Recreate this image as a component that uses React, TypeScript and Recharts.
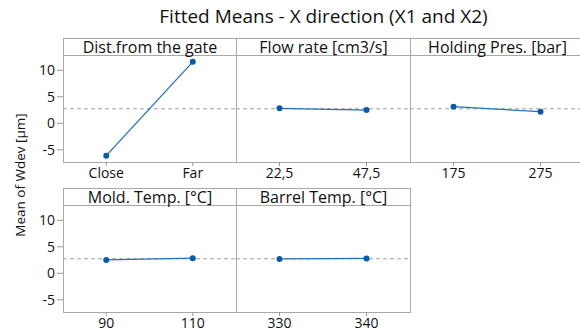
import React from "react"
import { LineChart, Line, XAxis, YAxis, ReferenceLine } from "recharts"

const factors = ["Dist.from the gate", "Flow rate [cm3/s]", "Holding Pres. [bar]", "Mold. Temp. [°C]", "Barrel Temp. [°C]"]
const levels = [["Close", "Far"], ["22,5", "47,5"], ["175", "275"], ["90", "110"], ["330", "340"]]
const means = [[-6.1, 11.6], [2.83, 2.5], [3.13, 2.19], [2.53, 2.86], [2.72, 2.8]]
const overallMean = 2.74
const yTicks = [-5, 0, 5, 10]

const FONT = "'Open Sans', 'Noto Sans', sans-serif"
const BORDER = "#a8a8a8"
const TEXT = "#111"
// column edges, last one runs past the picture
const colEdge = [63, 236, 410, 584]
const rowTop = [38, 188]
const headerH = 18
const plotH = 106
const yAxisW = 40

const Panel = ({ idx }: { idx: number }) => {
    const col = idx % 3
    const row = Math.floor(idx / 3)
    const left = colEdge[col]
    const colW = colEdge[col + 1] - colEdge[col]
    const top = rowTop[row]
    const data = levels[idx].map((lv, i) => ({ level: lv, mean: means[idx][i] }))
    const withY = col === 0
    const chartW = colW + (withY ? yAxisW : 0)

    return (
        <>
            <div style={{
                position: "absolute", left, top, width: colW - 1, height: headerH + plotH - 1,
                border: `1px solid ${BORDER}`
            }} />
            <div style={{
                position: "absolute", left, top, width: colW + 1, height: headerH - 1,
                borderBottom: `1px solid ${BORDER}`, textAlign: "center",
                fontSize: 16, lineHeight: `${headerH}px`, color: TEXT, fontFamily: FONT
            }}>{factors[idx]}</div>
            <div style={{ position: "absolute", left: left - (withY ? yAxisW : 0), top: top + headerH }}>
                <LineChart width={chartW} height={plotH + 24} data={data}
                    margin={{ top: 0, right: 0, bottom: 0, left: 0 }}>
                    <XAxis dataKey="level" axisLine={false} tickSize={4} tickLine={{ stroke: "#999" }}
                        padding={{ left: colW / 4, right: colW / 4 }} height={24} interval={0}
                        tick={{ fontSize: 14, fill: TEXT, fontFamily: FONT }} />
                    <YAxis type="number" domain={[-7.3, 12.7]} ticks={yTicks} hide={!withY}
                        width={yAxisW} axisLine={false} tickSize={6} tickMargin={2}
                        tickLine={{ stroke: "#999" }}
                        tick={{ fontSize: 14, fill: TEXT, fontFamily: FONT }} />
                    <ReferenceLine y={overallMean} stroke="#a0a0a0" strokeDasharray="4 3" />
                    <Line dataKey="mean" stroke="#2a6cbf" strokeWidth={1.3} isAnimationActive={false}
                        dot={{ r: 3, fill: "#0b5aa8", stroke: "#0b5aa8", strokeWidth: 0 }} />
                </LineChart>
            </div>
        </>
    )
}

export default function App() {
    return (
        <div style={{
            position: "absolute", left: 0, top: 0, width: 580, height: 334,
            overflow: "hidden", background: "#fff", fontFamily: FONT
        }}>
            <div style={{
                position: "absolute", left: 63, width: 521, top: 3, textAlign: "center",
                fontSize: 19, color: TEXT
            }}>Fitted Means - X direction (X1 and X2)</div>
            <div style={{
                position: "absolute", left: 20, top: 175, transform: "translate(-50%, -50%) rotate(-90deg)",
                whiteSpace: "nowrap", fontSize: 13.5, color: TEXT
            }}>Mean of Wdev [µm]</div>
            {factors.map((f, i) => <Panel key={f} idx={i} />)}
        </div>
    )
}
